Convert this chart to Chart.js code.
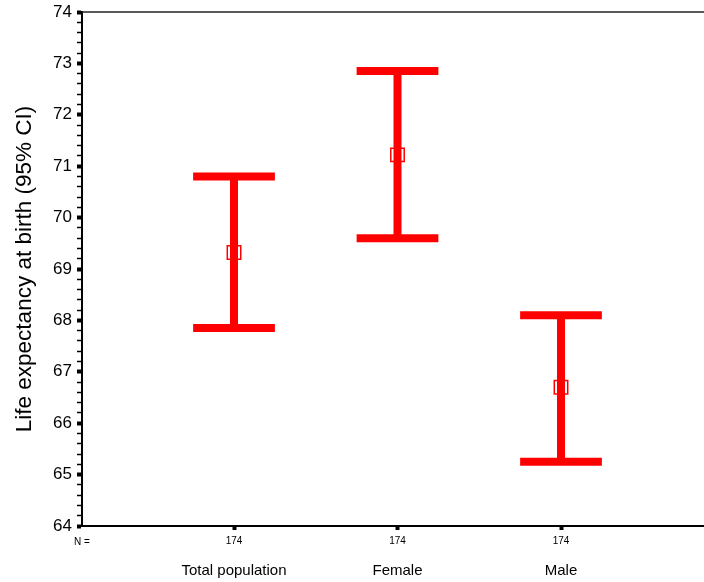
<!DOCTYPE html>
<html>
<head>
<meta charset="utf-8">
<script src="https://cdn.jsdelivr.net/npm/chart.js@4.4.0/dist/chart.umd.min.js"></script>
<style>
  html, body { margin: 0; padding: 0; background: #fff; }
  #wrap { width: 704px; height: 582px; position: relative; }
</style>
</head>
<body>
<div id="wrap"><canvas id="c" width="704" height="582"></canvas></div>
<script>
// ---- data ----
const categories = ['Total population', 'Female', 'Male'];
const counts = [174, 174, 174];
const means = [69.32, 71.22, 66.70];
const lowerCI = [67.85, 69.60, 65.25];
const upperCI = [70.80, 72.85, 68.10];
const yTicksMin = 64;
const yTicksMax = 74;

// ---- styles ----
const RED = '#ff0000';
const FONT = "'Liberation Sans', Arial, Helvetica, sans-serif";
const CAP_HALF = 0.25;

const positions = categories.map((_, i) => i + 1);

const datasets = [];
// mean markers (first = drawn on top)
datasets.push({
  data: positions.map((p, i) => ({ x: p, y: means[i] })),
  showLine: false,
  pointStyle: 'rect',
  pointRadius: 9.5,
  pointBorderWidth: 1.5,
  pointBorderColor: RED,
  pointBackgroundColor: 'rgba(0,0,0,0)'
});
positions.forEach((p, i) => {
  datasets.push({
    data: [{ x: p, y: lowerCI[i] }, { x: p, y: upperCI[i] }],
    showLine: true, borderColor: RED, borderWidth: 8, pointRadius: 0,
    borderCapStyle: 'butt'
  });
  datasets.push({
    data: [{ x: p - CAP_HALF, y: upperCI[i] }, { x: p + CAP_HALF, y: upperCI[i] }],
    showLine: true, borderColor: RED, borderWidth: 8, pointRadius: 0,
    borderCapStyle: 'butt'
  });
  datasets.push({
    data: [{ x: p - CAP_HALF, y: lowerCI[i] }, { x: p + CAP_HALF, y: lowerCI[i] }],
    showLine: true, borderColor: RED, borderWidth: 8, pointRadius: 0,
    borderCapStyle: 'butt'
  });
});

const isInt = v => Math.abs(v - Math.round(v)) < 1e-6;

const framePlugin = {
  id: 'frame',
  afterDraw(chart) {
    const ctx = chart.ctx;
    const a = chart.chartArea;
    ctx.save();
    ctx.strokeStyle = '#222';
    ctx.lineWidth = 1.5;
    ctx.beginPath();
    ctx.moveTo(a.left, a.top);
    ctx.lineTo(a.right, a.top);
    ctx.stroke();
    const xs = chart.scales.x;
    ctx.fillStyle = '#000';
    ctx.font = '10px ' + FONT;
    ctx.textAlign = 'center';
    ctx.textBaseline = 'middle';
    ctx.fillText('N =', a.left, xs.top + 16);
    ctx.restore();
  }
};

const noPad = s => { s.paddingLeft = 0; s.paddingRight = 0; };

new Chart(document.getElementById('c'), {
  type: 'scatter',
  data: { datasets },
  plugins: [framePlugin],
  options: {
    responsive: false,
    animation: false,
    events: [],
    layout: { autoPadding: false, padding: { top: 12, right: 0, left: 0, bottom: 0 } },
    plugins: { legend: { display: false }, tooltip: { enabled: false } },
    scales: {
      x: {
        type: 'linear',
        position: 'bottom',
        weight: 0,
        min: 0.0703,
        max: 3.8746,
        afterBuildTicks: s => { s.ticks = positions.map(v => ({ value: v })); },
        afterFit: s => { s.height = 25; noPad(s); },
        ticks: {
          callback: (v) => { const i = positions.indexOf(v); return i >= 0 ? String(counts[i]) : ''; },
          font: { family: FONT, size: 10 },
          color: '#000',
          padding: 5,
          maxRotation: 0,
          autoSkip: false
        },
        grid: { display: true, drawOnChartArea: false, tickLength: 4, tickWidth: 4, tickColor: '#000' },
        border: { display: true, color: '#000', width: 2 }
      },
      xcat: {
        type: 'linear',
        position: 'bottom',
        weight: 1,
        min: 0.0703,
        max: 3.8746,
        afterBuildTicks: s => { s.ticks = positions.map(v => ({ value: v })); },
        afterFit: s => { s.height = 31; noPad(s); },
        ticks: {
          callback: (v) => { const i = positions.indexOf(v); return i >= 0 ? categories[i] : ''; },
          font: { family: FONT, size: 15 },
          color: '#000',
          padding: 3,
          maxRotation: 0,
          autoSkip: false
        },
        grid: { display: false },
        border: { display: false }
      },
      y: {
        type: 'linear',
        min: yTicksMin,
        max: yTicksMax,
        afterFit: s => { s.width = 82; s.paddingTop = 0; s.paddingBottom = 0; },
        ticks: {
          stepSize: 0.2,
          autoSkip: false,
          callback: v => isInt(v) ? String(Math.round(v)) : '',
          font: { family: FONT, size: 17 },
          color: '#000',
          padding: 5
        },
        grid: {
          display: true, drawOnChartArea: false, tickLength: 5,
          tickWidth: c => (c.tick && isInt(c.tick.value)) ? 4 : 1.5,
          tickColor: '#000'
        },
        border: { display: true, color: '#000', width: 2 },
        title: {
          display: true,
          text: 'Life expectancy at birth (95% CI)',
          font: { family: FONT, size: 22.5 },
          color: '#000',
          padding: { top: 11.5, bottom: 0 }
        }
      }
    }
  }
});
</script>
</body>
</html>
